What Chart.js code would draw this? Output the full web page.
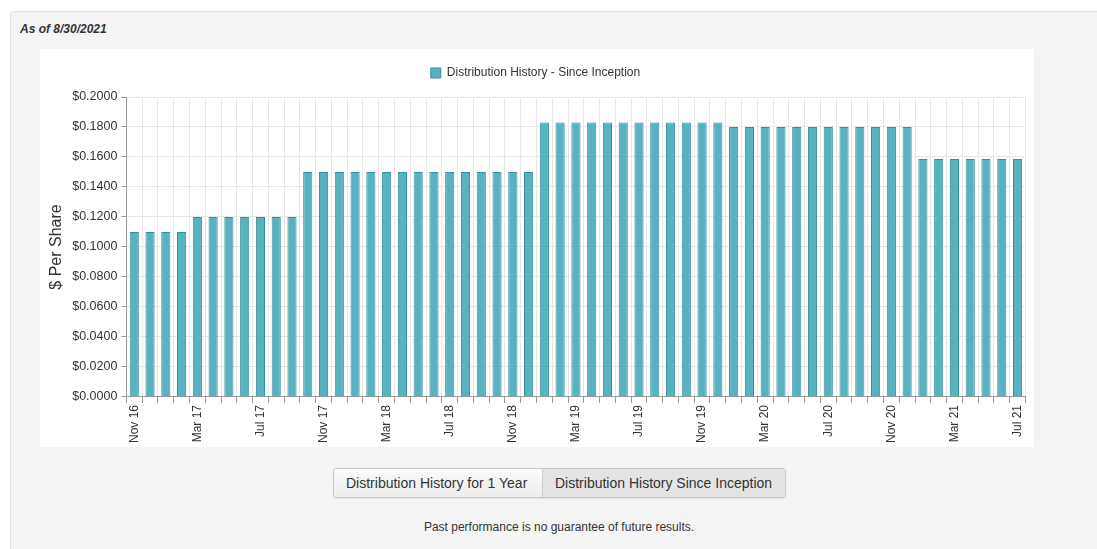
<!DOCTYPE html>
<html>
<head>
<meta charset="utf-8">
<script src="https://cdn.jsdelivr.net/npm/chart.js@4"></script>
<style>
  html, body { margin: 0; padding: 0; background: #fff; font-family: "Liberation Sans", Arial, sans-serif; }
  .panel { position: absolute; left: 10px; top: 11px; width: 1100px; height: 560px; background: #f4f4f4; border: 1px solid #e2e2e2; border-radius: 3px; }
  .asof { position: absolute; left: 20px; top: 22px; font-size: 12px; font-weight: bold; font-style: italic; color: #333; }
  .chart-box { position: absolute; left: 40px; top: 49px; width: 994px; height: 398px; background: #fff; }
  .btns { position: absolute; left: 333px; top: 468px; display: flex; border: 1px solid #c8c8c8; border-radius: 3px; overflow: hidden; box-shadow: 0 1px 1px rgba(0,0,0,0.08); }
  .btn { font-size: 14px; color: #333; padding: 0 12px; height: 28px; line-height: 28px; background: linear-gradient(#fafafa, #ececec); }
  .btn.active { background: #e4e4e4; border-left: 1px solid #cfcfcf; }
  .note { position: absolute; left: 0; width: 1118px; top: 520px; text-align: center; font-size: 12px; color: #333; }
</style>
</head>
<body>
<div class="panel"></div>
<div class="asof">As of 8/30/2021</div>
<div class="chart-box"><canvas id="chart" width="994" height="398"></canvas></div>
<div class="btns">
  <div class="btn" style="width:184px;">Distribution History for 1 Year</div>
  <div class="btn active" style="width:218px;">Distribution History Since Inception</div>
</div>
<div class="note">Past performance is no guarantee of future results.</div>
<script>
// monthly distributions, Nov 2016 through Jul 2021
const labels = [
  'Nov 16', 'Dec 16',
  'Jan 17', 'Feb 17', 'Mar 17', 'Apr 17', 'May 17', 'Jun 17', 'Jul 17', 'Aug 17', 'Sep 17', 'Oct 17', 'Nov 17', 'Dec 17',
  'Jan 18', 'Feb 18', 'Mar 18', 'Apr 18', 'May 18', 'Jun 18', 'Jul 18', 'Aug 18', 'Sep 18', 'Oct 18', 'Nov 18', 'Dec 18',
  'Jan 19', 'Feb 19', 'Mar 19', 'Apr 19', 'May 19', 'Jun 19', 'Jul 19', 'Aug 19', 'Sep 19', 'Oct 19', 'Nov 19', 'Dec 19',
  'Jan 20', 'Feb 20', 'Mar 20', 'Apr 20', 'May 20', 'Jun 20', 'Jul 20', 'Aug 20', 'Sep 20', 'Oct 20', 'Nov 20', 'Dec 20',
  'Jan 21', 'Feb 21', 'Mar 21', 'Apr 21', 'May 21', 'Jun 21', 'Jul 21',
];
const perShare = [
  0.110, 0.110,
  0.110, 0.110, 0.120, 0.120, 0.120, 0.120, 0.120, 0.120, 0.120, 0.150, 0.150, 0.150,
  0.150, 0.150, 0.150, 0.150, 0.150, 0.150, 0.150, 0.150, 0.150, 0.150, 0.150, 0.150,
  0.183, 0.183, 0.183, 0.183, 0.183, 0.183, 0.183, 0.183, 0.183, 0.183, 0.183, 0.183,
  0.180, 0.180, 0.180, 0.180, 0.180, 0.180, 0.180, 0.180, 0.180, 0.180, 0.180, 0.180,
  0.1586, 0.1586, 0.1586, 0.1586, 0.1586, 0.1586, 0.1586,
];
const yTicks = [0, 0.02, 0.04, 0.06, 0.08, 0.10, 0.12, 0.14, 0.16, 0.18, 0.20];

const teal = '#58b2c0';
const tealEdge = '#33909d';

// legend sits a bit higher above the plot than chart.js puts it
const legendGap = {
  id: 'legendGap',
  beforeInit(chart) {
    const fit = chart.legend.fit;
    chart.legend.fit = function () { fit.bind(this)(); this.height += 8; };
  },
};

new Chart(document.getElementById('chart'), {
  type: 'bar',
  data: {
    labels,
    datasets: [{
      label: 'Distribution History - Since Inception',
      data: perShare,
      backgroundColor: teal,
      borderColor: tealEdge,
      borderWidth: 1,
      barPercentage: 0.58,
      categoryPercentage: 1,
    }],
  },
  plugins: [legendGap],
  options: {
    animation: false, responsive: false,
    layout: { padding: { top: 8, right: 6, left: 3, bottom: 2 } },
    plugins: {
      legend: {
        labels: { boxWidth: 10, boxHeight: 10, color: '#333', font: { family: 'Liberation Sans', size: 12 }, padding: 10 },
      },
      tooltip: { enabled: false },
    },
    scales: {
      x: {
        grid: { color: '#e6e6e6', tickColor: '#999', tickLength: 6, offset: true },
        border: { color: '#999' },
        ticks: {
          autoSkip: false, maxRotation: 90, minRotation: 90, padding: 2,
          color: '#333', font: { family: 'Liberation Sans', size: 12 },
          callback: (v, i) => (i % 4 === 0 ? labels[i] : ''),
        },
      },
      y: {
        min: 0, max: 0.2,
        afterBuildTicks: axis => { axis.ticks = yTicks.map(v => ({ value: v })); },
        grid: { color: '#e6e6e6', tickColor: '#999', tickLength: 5 },
        border: { color: '#999' },
        ticks: { color: '#333', font: { family: 'Liberation Sans', size: 12.5 }, padding: 4, callback: v => '$' + Number(v).toFixed(4) },
        title: { display: true, text: '$ Per Share', color: '#333', font: { family: 'Liberation Sans', size: 16 }, padding: { bottom: 2 } },
      },
    },
  },
});
</script>
</body>
</html>
